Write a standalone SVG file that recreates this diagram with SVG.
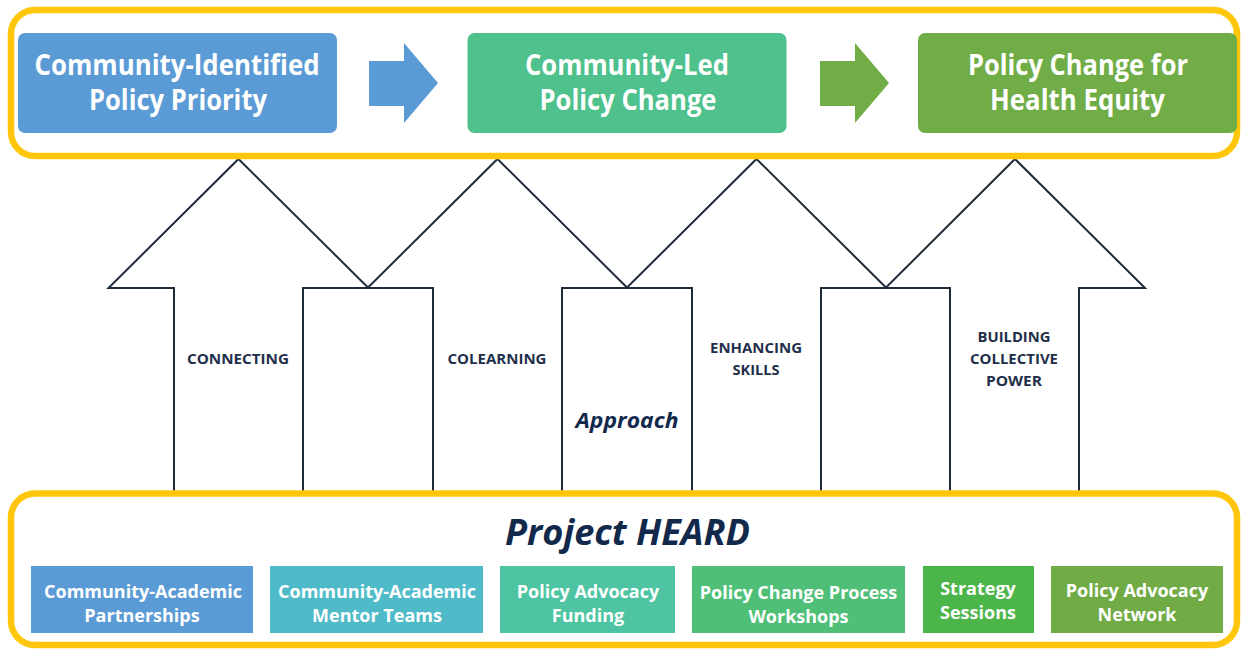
<svg xmlns="http://www.w3.org/2000/svg" width="1241" height="651" viewBox="0 0 1241 651">
  <defs>
    <style>
      .frame { fill: none; stroke: #FFC60B; stroke-width: 6.5; }
      .stage { stroke: none; }
      .stage-text { fill: #FFFFFF; font-family: "Open Sans", "Liberation Sans", sans-serif; font-weight: 700; font-size: 28.5px; text-anchor: middle; }
      .act-text { fill: #FFFFFF; font-family: "Open Sans", "Liberation Sans", sans-serif; font-weight: 700; font-size: 18px; text-anchor: middle; }
      .pillar { fill: #FFFFFF; stroke: #1E2B3A; stroke-width: 2; stroke-linejoin: miter; }
      .pillar-text { fill: #1F2F4B; font-family: "Open Sans", "Liberation Sans", sans-serif; font-weight: 700; font-size: 14.5px; text-anchor: middle; }
      .title { fill: #12294C; font-family: "Open Sans", "Liberation Sans", sans-serif; font-weight: 700; font-style: italic; text-anchor: middle; }
    </style>
  </defs>

  <rect width="1241" height="651" fill="#FFFFFF"/>

  <!-- Approach pillars: four outlined up-arrows -->
  <g id="pillars">
    <g id="pillar-connecting">
      <path class="pillar" d="M238.5,159 L368.5,288 L303,288 L303,492 L174,492 L174,288 L108.5,288 Z"/>
      <text class="pillar-text" x="238" y="363.5" textLength="102" lengthAdjust="spacingAndGlyphs">CONNECTING</text>
    </g>
    <g id="pillar-colearning">
      <path class="pillar" d="M497.5,159 L627.5,288 L562,288 L562,492 L433,492 L433,288 L367.5,288 Z"/>
      <text class="pillar-text" x="497" y="363.5" textLength="99" lengthAdjust="spacingAndGlyphs">COLEARNING</text>
    </g>
    <g id="pillar-skills">
      <path class="pillar" d="M756.5,159 L886.5,288 L821,288 L821,492 L692,492 L692,288 L626.5,288 Z"/>
      <text class="pillar-text" x="756" y="352.5" textLength="92" lengthAdjust="spacingAndGlyphs">ENHANCING</text>
      <text class="pillar-text" x="756" y="374.5" textLength="47" lengthAdjust="spacingAndGlyphs">SKILLS</text>
    </g>
    <g id="pillar-power">
      <path class="pillar" d="M1015,159 L1145,288 L1079,288 L1079,492 L950,492 L950,288 L885.5,288 Z"/>
      <text class="pillar-text" x="1014" y="341.5" textLength="73" lengthAdjust="spacingAndGlyphs">BUILDING</text>
      <text class="pillar-text" x="1014" y="363.5" textLength="88" lengthAdjust="spacingAndGlyphs">COLLECTIVE</text>
      <text class="pillar-text" x="1014" y="385.5" textLength="56" lengthAdjust="spacingAndGlyphs">POWER</text>
    </g>
    <text id="approach-label" class="title" x="627" y="428" font-size="22" textLength="103" lengthAdjust="spacingAndGlyphs">Approach</text>
  </g>

  <!-- Outcome row -->
  <g id="outcomes">
    <rect class="frame" x="11" y="10" width="1226" height="146" rx="24"/>
    <g id="stage-priority">
      <rect class="stage" x="18" y="33" width="319" height="100" rx="7" fill="#5B9BD5"/>
      <text class="stage-text" x="177" y="75" textLength="285" lengthAdjust="spacingAndGlyphs">Community-Identified</text>
      <text class="stage-text" x="178" y="110" textLength="178" lengthAdjust="spacingAndGlyphs">Policy Priority</text>
    </g>
    <g id="stage-change">
      <rect class="stage" x="467.5" y="33" width="319" height="100" rx="7" fill="#4EC18C"/>
      <text class="stage-text" x="627" y="75" textLength="204" lengthAdjust="spacingAndGlyphs">Community-Led</text>
      <text class="stage-text" x="628" y="110" textLength="177" lengthAdjust="spacingAndGlyphs">Policy Change</text>
    </g>
    <g id="stage-equity">
      <rect class="stage" x="918" y="33" width="319" height="100" rx="7" fill="#70AD47"/>
      <text class="stage-text" x="1078" y="75" textLength="220" lengthAdjust="spacingAndGlyphs">Policy Change for</text>
      <text class="stage-text" x="1077.5" y="110" textLength="175" lengthAdjust="spacingAndGlyphs">Health Equity</text>
    </g>
  </g>

  <!-- Flow arrows between outcome stages -->
  <g id="connectors">
    <polygon points="369,61 404,61 404,43 438,83 404,123 404,106 369,106" fill="#5B9BD5"/>
    <polygon points="820,61 855,61 855,43 889,83 855,123 855,106 820,106" fill="#70AD47"/>
  </g>

  <!-- Project HEARD activities -->
  <g id="project-heard">
    <rect class="frame" x="11" y="493.5" width="1226" height="151.5" rx="24"/>
    <text id="project-title" class="title" x="627.5" y="545" font-size="35" textLength="245" lengthAdjust="spacingAndGlyphs">Project HEARD</text>
    <g id="act-partnerships">
      <rect x="31" y="566" width="222" height="67" fill="#5B9BD5"/>
      <text class="act-text" x="143" y="598">Community-Academic</text>
      <text class="act-text" x="142" y="622">Partnerships</text>
    </g>
    <g id="act-mentors">
      <rect x="270" y="566" width="213" height="67" fill="#4FBBC9"/>
      <text class="act-text" x="377" y="598">Community-Academic</text>
      <text class="act-text" x="377" y="622">Mentor Teams</text>
    </g>
    <g id="act-funding">
      <rect x="500" y="566" width="175" height="67" fill="#4EC4A2"/>
      <text class="act-text" x="588" y="598">Policy Advocacy</text>
      <text class="act-text" x="588" y="622">Funding</text>
    </g>
    <g id="act-workshops">
      <rect x="692" y="566" width="213" height="67" fill="#4FBF77"/>
      <text class="act-text" x="798.5" y="599">Policy Change Process</text>
      <text class="act-text" x="798.5" y="623">Workshops</text>
    </g>
    <g id="act-strategy">
      <rect x="923" y="566" width="111" height="67" fill="#4CB54A"/>
      <text class="act-text" x="978" y="595">Strategy</text>
      <text class="act-text" x="978" y="618.5">Sessions</text>
    </g>
    <g id="act-network">
      <rect x="1051" y="566" width="172" height="67" fill="#70AB45"/>
      <text class="act-text" x="1137" y="597">Policy Advocacy</text>
      <text class="act-text" x="1137" y="621">Network</text>
    </g>
  </g>
</svg>
